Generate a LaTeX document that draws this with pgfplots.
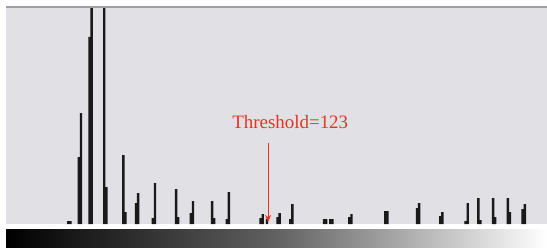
\documentclass[border=0pt]{standalone}
\usepackage{pgfplots}
\pgfplotsset{compat=1.18}
\usepackage{pgfplotstable}
\usetikzlibrary{arrows.meta}
\usepackage{fontspec}
\setmainfont{Liberation Serif}
\definecolor{bggray}{RGB}{224,224,229}
\definecolor{thred}{RGB}{234,50,34}
\pgfplotstableread{
bin count
29 3
30 3
34 67
35 111
39 187
40 300
46 300
47 37
55 69
56 12
61 21
62 31
69 6
70 41
80 35
81 7
87 11
88 23
97 23
98 6
104 5
105 32
120 6
121 10
123 5
128 7
129 11
134 5
135 20
150 5
151 5
153 5
154 5
162 7
163 10
179 13
180 13
194 16
195 21
205 8
206 12
217 3
218 21
223 26
224 4
230 26
231 7
237 26
238 12
244 15
245 20
}\hist
\begin{document}
\begin{tikzpicture}[x=1bp,y=1bp]
\useasboundingbox (0,0) rectangle (547,247);
\fill[white] (0,0) rectangle (547,247);
\shade[left color=black,right color=white,middle color=black!62] (6,0) rectangle (547,18);
\begin{axis}[at={(6bp,23bp)}, anchor=south west, scale only axis,
  width=541bp, height=217bp,
  xmin=-0.5, xmax=255.5, ymin=0, ymax=217,
  ticks=none, axis line style={draw=none},
  axis background/.style={fill=bggray},
  ybar, bar width=1.15,
  clip=true]
\addplot[fill=black!90, draw=none] table[x=bin,y=count] {\hist};
\draw[gray!75, line width=1.6bp] (rel axis cs:0,1) -- (rel axis cs:1,1);
\draw[thred, line width=1.1bp, -{Stealth[length=7bp,width=6bp]}] (axis cs:123.5,81) -- (axis cs:123.5,2);
\node[thred, anchor=base, inner sep=0pt, font=\fontsize{19}{22}\selectfont] at (axis cs:134,96) {Threshold=123};
\end{axis}
\end{tikzpicture}
\end{document}
